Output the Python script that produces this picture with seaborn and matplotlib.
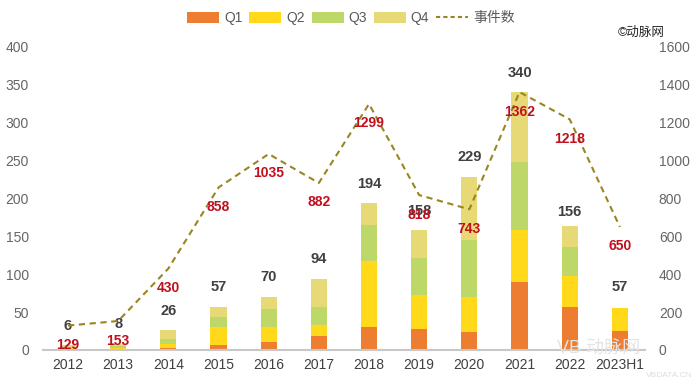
import numpy as np
import pandas as pd
import matplotlib
matplotlib.use("Agg")
import matplotlib.pyplot as plt
import seaborn as sns
from matplotlib.patches import Patch
from matplotlib.lines import Line2D

categories = ["2012", "2013", "2014", "2015", "2016", "2017", "2018", "2019", "2020", "2021", "2022", "2023H1"]
q1 = [1, 1, 3, 7, 11, 19, 31, 28, 24, 90, 57, 25]
q2 = [2, 2, 5, 24, 19, 14, 87, 44, 46, 68, 41, 31]
q3 = [1, 2, 7, 13, 24, 24, 47, 49, 75, 90, 38, 0]
q4 = [2, 3, 11, 13, 16, 37, 29, 37, 84, 92, 28, 0]
totals = [6, 8, 26, 57, 70, 94, 194, 158, 229, 340, 156, 57]
events = [129, 153, 430, 858, 1035, 882, 1299, 818, 743, 1362, 1218, 650]
series_names = ["Q1", "Q2", "Q3", "Q4"]
line_name = "事件数"

colors = ["#ED7D31", "#FFD91A", "#BDD769", "#E6D976"]
line_color = "#9A8620"
red = "#C0101E"
dark = "#404040"
tick_gray = "#666666"

sns.set_theme(style="white")
plt.rcParams["font.family"] = ["Liberation Sans", "Noto Sans CJK SC", "DejaVu Sans"]

fig = plt.figure(figsize=(6.92, 3.82), dpi=100)
ax = fig.add_axes([0.062, 0.0838, 0.870, 0.7932])

df = pd.DataFrame({"cat": categories, "Q1": q1, "Q2": q2, "Q3": q3, "Q4": q4})
bottom = np.zeros(len(categories))
for name, col in zip(series_names, colors):
    vals = np.array(df[name], dtype=float)
    sns.barplot(x=df["cat"], y=vals, bottom=bottom, color=col, width=0.32,
                ax=ax, saturation=1, linewidth=0, order=categories)
    bottom = bottom + vals

ax.set_ylim(0, 400)
ax.set_xlim(-0.5, len(categories) - 0.5)
ax.set_yticks(range(0, 401, 50))
ax.set_xlabel("")
ax.set_ylabel("")
for s in ["top", "right", "left"]:
    ax.spines[s].set_visible(False)
ax.spines["bottom"].set_color("#C8C8C8")
ax.spines["bottom"].set_linewidth(1.5)
ax.tick_params(axis="x", labelsize=10, length=0, pad=6, labelcolor="#404040")
ax.tick_params(axis="y", labelsize=10, length=0, pad=10, labelcolor=tick_gray)

ax2 = ax.twinx()
x = np.arange(len(categories))
sns.lineplot(x=x, y=events, ax=ax2, color=line_color, linewidth=1.5,
             dashes=False, legend=False)
ax2.lines[0].set_dashes((3, 2.2))
ax2.set_ylim(0, 1600)
ax2.set_yticks(range(0, 1601, 200))
ax2.set_xlim(-0.5, len(categories) - 0.5)
for s in ["top", "right", "left", "bottom"]:
    ax2.spines[s].set_visible(False)
ax2.tick_params(axis="y", labelsize=10, length=0, pad=10, labelcolor=tick_gray)
ax2.set_ylabel("")

# total labels above bars
for i, t in enumerate(totals):
    ax.annotate(str(t), (i, t), xytext=(0, 9), textcoords="offset points",
                ha="center", va="bottom", fontsize=10.5, fontweight="bold", color=dark, zorder=5)
# event labels below line points
for i, e in enumerate(events):
    ax2.annotate(str(e), (i, e), xytext=(0, -9), textcoords="offset points",
                 ha="center", va="top", fontsize=10, fontweight="bold", color=red, zorder=6)

handles = [Patch(facecolor=c, edgecolor="none") for c in colors]
handles.append(Line2D([0], [0], color=line_color, lw=1.5, dashes=(2, 1.5)))
fig.legend(handles, series_names + [line_name], loc="center", bbox_to_anchor=(0.507, 0.952),
           ncol=5, frameon=False, fontsize=10, handlelength=2.3, handleheight=0.75,
           columnspacing=0.5, handletextpad=0.35, labelcolor="#595959")

fig.text(0.893, 0.913, "©动脉网", fontsize=9, color="#222222", ha="left", va="center")
fig.text(0.865, 0.085, "VB 动脉网", fontsize=13, color="#E4E4E4", ha="center", va="center", zorder=0)
fig.text(0.967, 0.018, "VBDATA.CN", fontsize=6, color="#DDDDDD", ha="center", va="center", zorder=0)

fig.savefig("out.png", dpi=100)
